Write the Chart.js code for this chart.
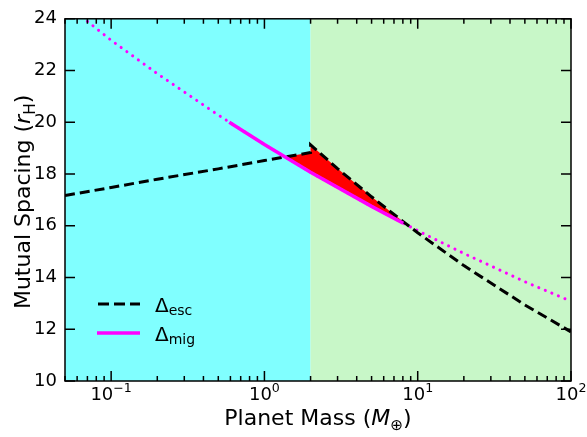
<!DOCTYPE html>
<html>
<head>
<meta charset="utf-8">
<script src="https://cdn.jsdelivr.net/npm/chart.js@4/dist/chart.umd.min.js"></script>
<style>
  body { margin: 0; background: #fff; }
</style>
</head>
<body>
<canvas id="myChart" width="587" height="437"></canvas>
<script>
// values
var massSplit = 2;                 // boundary between the two shaded regions
var xLimits = [0.05, 100];
var yLimits = [10, 24];

var escMass = [0.05, 0.1, 0.2, 0.5, 1, 2, 2, 3, 5, 8, 10, 20, 50, 100];
var escSpacing = [17.17, 17.48, 17.8, 18.2, 18.52, 18.83, 19.13, 18.21, 17.12, 16.17, 15.73, 14.46, 12.94, 11.9];

var migMassAll = [0.07, 0.1, 0.2, 0.5, 1, 2, 5, 10, 20, 50, 100];
var migSpacingAll = [23.9, 23.17, 21.88, 20.28, 19.14, 18.07, 16.75, 15.81, 14.93, 13.84, 13.08];

var migMass = [0.59, 1, 2, 5, 8.05];
var migSpacing = [20.0, 19.14, 18.07, 16.75, 16.1];

// red region between the two curves
var gapMass = [1.35, 2, 2, 3, 5, 8.05];
var gapTop = [18.66, 18.83, 19.13, 18.21, 17.12, 16.16];
var gapBottom = [18.67, 18.07, 18.07, 17.45, 16.75, 16.1];

var xMajor = [0.1, 1, 10, 100];
var xExponents = ["\u22121", "0", "1", "2"];
var yTicks = [10, 12, 14, 16, 18, 20, 22, 24];

const FONT = "'DejaVu Sans', sans-serif";

function pts(xs, ys) {
  return xs.map((x, i) => ({ x: x, y: ys[i] }));
}

// draw text pieces with italic / subscript / superscript parts, centred on x
function drawRich(ctx, parts, x, y, size) {
  const fontOf = p => {
    const s = p.sub || p.sup ? size * 0.7 : size;
    return (p.italic ? "italic " : "") + s + "px " + FONT;
  };
  let w = 0;
  parts.forEach(p => { ctx.font = fontOf(p); w += ctx.measureText(p.t).width; });
  let cx = x - w / 2;
  ctx.textAlign = "left";
  ctx.textBaseline = "alphabetic";
  parts.forEach(p => {
    ctx.font = fontOf(p);
    let dy = 0;
    if (p.sub) dy = size * 0.22;
    if (p.sup) dy = -size * 0.42;
    ctx.fillText(p.t, cx, y + dy);
    cx += ctx.measureText(p.t).width;
  });
}

const backgroundPlugin = {
  id: "regions",
  beforeDatasetsDraw(chart) {
    const { ctx, chartArea: a, scales } = chart;
    const xs = scales.x.getPixelForValue(massSplit);
    ctx.save();
    ctx.fillStyle = "#80ffff";
    ctx.fillRect(a.left, a.top, xs - a.left, a.bottom - a.top);
    ctx.fillStyle = "#c8f7c8";
    ctx.fillRect(xs, a.top, a.right - xs, a.bottom - a.top);
    ctx.restore();
  }
};

const axesPlugin = {
  id: "axesDeco",
  afterDraw(chart) {
    const { ctx, chartArea: a, scales } = chart;
    const sx = scales.x, sy = scales.y;
    ctx.save();
    ctx.strokeStyle = "#000";
    ctx.lineWidth = 1.5;
    ctx.strokeRect(a.left, a.top, a.right - a.left, a.bottom - a.top);

    ctx.beginPath();
    // x ticks, inward, bottom and top
    for (let e = -2; e <= 2; e++) {
      for (let k = 1; k <= 9; k++) {
        const v = k * Math.pow(10, e);
        if (v < xLimits[0] - 1e-9 || v > xLimits[1] + 1e-9) continue;
        const px = sx.getPixelForValue(v);
        const len = k === 1 ? 10 : 5;
        ctx.moveTo(px, a.bottom); ctx.lineTo(px, a.bottom - len);
        ctx.moveTo(px, a.top); ctx.lineTo(px, a.top + len);
      }
    }
    // y ticks, inward, left and right
    yTicks.forEach(v => {
      const py = sy.getPixelForValue(v);
      ctx.moveTo(a.left, py); ctx.lineTo(a.left + 10, py);
      ctx.moveTo(a.right, py); ctx.lineTo(a.right - 10, py);
    });
    ctx.stroke();

    ctx.fillStyle = "#000";
    // x tick labels 10^n
    xMajor.forEach((v, i) => {
      const px = sx.getPixelForValue(v);
      drawRich(ctx, [{ t: "10" }, { t: xExponents[i], sup: true }], px, a.bottom + 19, 18);
    });

    // axis titles
    drawRich(ctx, [{ t: "Planet Mass (" }, { t: "M", italic: true }, { t: "\u2295", sub: true }, { t: ")" }],
      (a.left + a.right) / 2, 425, 22);
    ctx.save();
    ctx.translate(30, (a.top + a.bottom) / 2 + 2);
    ctx.rotate(-Math.PI / 2);
    drawRich(ctx, [{ t: "Mutual Spacing (" }, { t: "r", italic: true }, { t: "H", sub: true }, { t: ")" }], 0, 0, 22);
    ctx.restore();

    // legend
    const lx = 98, ly1 = 304, ly2 = 333;
    ctx.lineWidth = 3;
    ctx.setLineDash([11, 5]);
    ctx.strokeStyle = "#000";
    ctx.beginPath(); ctx.moveTo(lx, ly1); ctx.lineTo(lx + 42, ly1); ctx.stroke();
    ctx.setLineDash([]);
    ctx.lineWidth = 3.5;
    ctx.strokeStyle = "#ff00ff";
    ctx.beginPath(); ctx.moveTo(lx - 1, ly2); ctx.lineTo(lx + 42, ly2); ctx.stroke();
    ctx.fillStyle = "#000";
    ctx.textAlign = "left";
    ctx.textBaseline = "alphabetic";
    [["\u0394", "esc", ly1], ["\u0394", "mig", ly2]].forEach(r => {
      ctx.font = "20px " + FONT;
      ctx.fillText(r[0], 155, r[2] + 8);
      const w = ctx.measureText(r[0]).width;
      ctx.font = "14px " + FONT;
      ctx.fillText(r[1], 155 + w, r[2] + 11);
    });
    ctx.restore();
  }
};

new Chart(document.getElementById("myChart"), {
  type: "scatter",
  data: {
    datasets: [
      {
        label: "mig",
        data: pts(migMass, migSpacing),
        showLine: true,
        borderColor: "#ff00ff",
        borderWidth: 3.5,
        pointRadius: 0,
        fill: false
      },
      {
        label: "esc",
        data: pts(escMass, escSpacing),
        showLine: true,
        borderColor: "#000",
        borderWidth: 3,
        borderDash: [10, 5],
        pointRadius: 0,
        fill: false
      },
      {
        label: "mig dotted",
        data: pts(migMassAll, migSpacingAll),
        showLine: true,
        borderColor: "#ff00ff",
        borderWidth: 3,
        borderDash: [0.1, 7],
        borderCapStyle: "round",
        pointRadius: 0,
        fill: false
      },
      {
        label: "gap top",
        data: pts(gapMass, gapTop),
        showLine: true,
        borderWidth: 0,
        borderColor: "rgba(0,0,0,0)",
        backgroundColor: "#ff0000",
        pointRadius: 0,
        fill: "+1"
      },
      {
        label: "gap bottom",
        data: pts(gapMass, gapBottom),
        showLine: true,
        borderWidth: 0,
        borderColor: "rgba(0,0,0,0)",
        pointRadius: 0,
        fill: false
      }
    ]
  },
  options: {
    responsive: false,
    animation: false,
    layout: { padding: { top: 10, right: 16, left: 0, bottom: 0 } },
    plugins: { legend: { display: false }, tooltip: { enabled: false } },
    scales: {
      x: {
        type: "logarithmic",
        min: xLimits[0],
        max: xLimits[1],
        ticks: { display: false },
        grid: { display: false, drawTicks: false },
        border: { display: false },
        afterFit: s => { s.height = 56; }
      },
      y: {
        min: yLimits[0],
        max: yLimits[1],
        afterBuildTicks: s => { s.ticks = yTicks.map(v => ({ value: v })); },
        ticks: { color: "#000", font: { family: FONT, size: 18 }, padding: 8 },
        grid: { display: false, drawTicks: false },
        border: { display: false },
        afterFit: s => { s.width = 65; }
      }
    }
  },
  plugins: [backgroundPlugin, axesPlugin]
});
</script>
</body>
</html>
